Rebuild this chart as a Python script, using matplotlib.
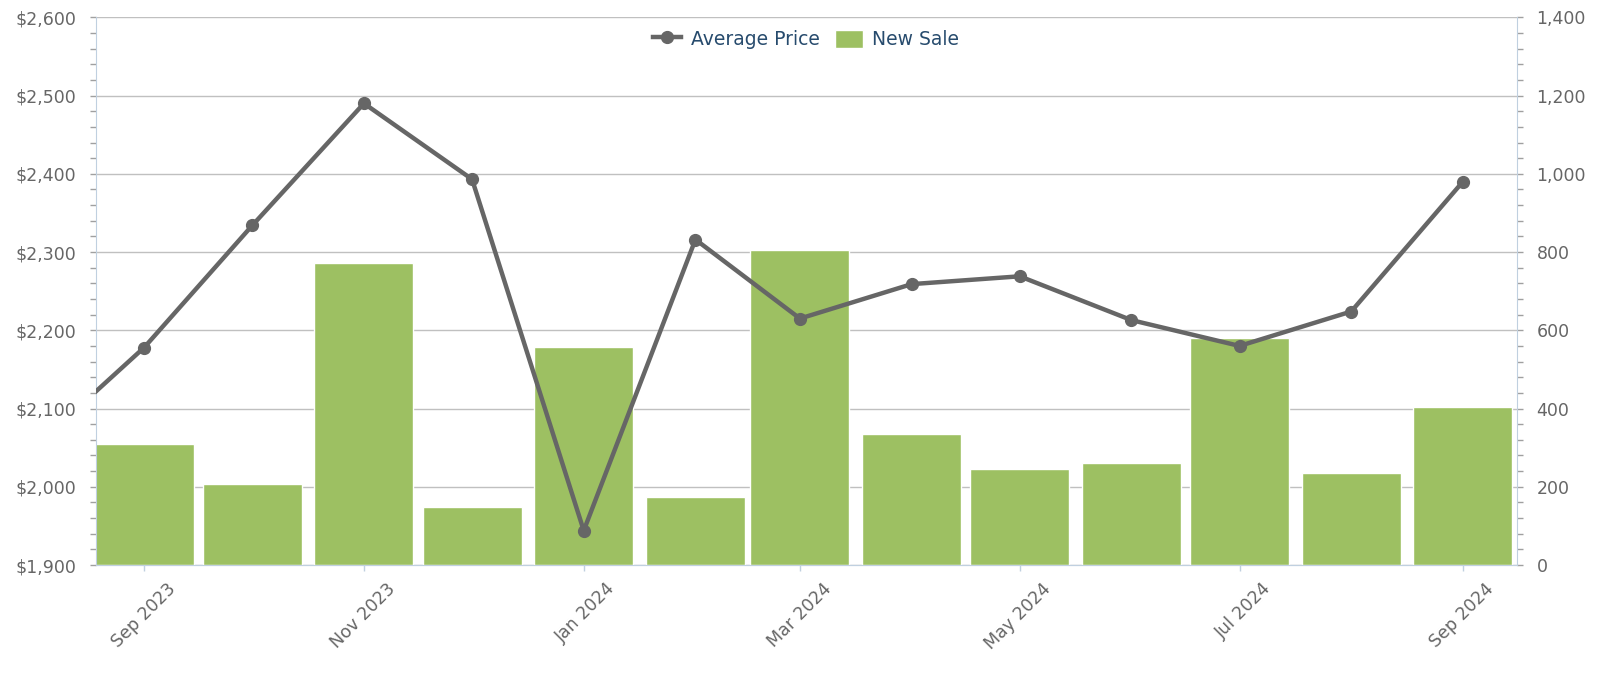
import numpy as np
import pandas as pd
import matplotlib
matplotlib.use("Agg")
import matplotlib.pyplot as plt
import matplotlib.dates as mdates
import matplotlib.transforms as mtransforms
from matplotlib.ticker import FuncFormatter, MultipleLocator

# data
months = ["2023-08", "2023-09", "2023-10", "2023-11", "2023-12", "2024-01", "2024-02",
          "2024-03", "2024-04", "2024-05", "2024-06", "2024-07", "2024-08", "2024-09"]
average_price = [2048, 2178, 2334, 2490, 2393, 1944, 2316,
                 2215, 2259, 2269, 2213, 2180, 2224, 2390]
sale_months = months[1:]
new_sale = [310, 206, 772, 149, 557, 175, 806, 335, 245, 262, 580, 236, 405]

price_ticks = [1900, 2000, 2100, 2200, 2300, 2400, 2500, 2600]
sale_ticks = [0, 200, 400, 600, 800, 1000, 1200, 1400]

dates = pd.to_datetime(months)
sale_dates = pd.to_datetime(sale_months)

label_col = "#666666"
axis_col = "#C0D0E0"

fig = plt.figure(figsize=(16, 6.74), dpi=100)
ax = fig.add_axes([0.0597, 0.1617, 0.8884, 0.8126])
ax2 = ax.twinx()
ax.set_zorder(ax2.get_zorder() + 1)
ax.patch.set_visible(False)

# bars on right axis, grid drawn there so bars cover it
ax2.bar(sale_dates, new_sale, width=27.5, color="#9DC062", edgecolor="white",
        linewidth=1, zorder=3, label="New Sale")
ax2.set_ylim(sale_ticks[0], sale_ticks[-1])
ax2.set_yticks(sale_ticks)
ax2.yaxis.set_minor_locator(MultipleLocator(40))
ax2.yaxis.set_major_formatter(FuncFormatter(lambda v, p: f"{v:,.0f}"))
ax2.grid(axis="y", color="#C0C0C0", linewidth=1.0, zorder=0)
ax2.set_axisbelow(True)

ln, = ax.plot(dates, average_price, color="#666666", linewidth=3.2, marker="o",
              markersize=8.5, zorder=4, label="Average Price")
ax.set_ylim(price_ticks[0], price_ticks[-1])
ax.set_yticks(price_ticks)
ax.yaxis.set_minor_locator(MultipleLocator(20))
ax.yaxis.set_major_formatter(FuncFormatter(lambda v, p: f"${v:,.0f}"))

x0 = pd.Timestamp("2023-09-01") - pd.Timedelta(days=13.5)
x1 = pd.Timestamp("2024-09-01") + pd.Timedelta(days=15)
ax.set_xlim(x0, x1)
ax.xaxis.set_major_locator(mdates.MonthLocator(bymonth=[1, 3, 5, 7, 9, 11]))
ax.xaxis.set_major_formatter(mdates.DateFormatter("%b %Y"))
plt.setp(ax.get_xticklabels(), rotation=45, ha="right", rotation_mode="anchor")

for a in (ax, ax2):
    a.spines["top"].set_visible(False)
    a.spines["left"].set_color(axis_col)
    a.spines["right"].set_color(axis_col)
    a.spines["bottom"].set_color(axis_col)
ax.spines["right"].set_visible(False)
ax2.spines["left"].set_visible(False)

ax.tick_params(axis="x", colors=axis_col, length=4, width=1, pad=3,
               labelsize=12.5, labelcolor=label_col)
ax.tick_params(axis="y", which="major", colors="#A0A0A0", length=4, width=1,
               pad=10, labelsize=12.5, labelcolor=label_col)
ax.tick_params(axis="y", which="minor", colors="#A0A0A0", length=4, width=1)
ax2.tick_params(axis="y", which="major", colors="#A0A0A0", length=4, width=1,
                pad=10, labelsize=12.5, labelcolor=label_col)
ax2.tick_params(axis="y", which="minor", colors="#A0A0A0", length=4, width=1)

# nudge rotated date labels so they sit under the tick like the original
off = mtransforms.ScaledTranslation(22 / 100, -5 / 100, fig.dpi_scale_trans)
for lab in ax.get_xticklabels():
    lab.set_transform(lab.get_transform() + off)

bars = ax2.containers[0]
leg = ax.legend([ln, bars], ["Average Price", "New Sale"], loc="center",
                bbox_to_anchor=(0.5, 0.96), ncol=2, frameon=False, fontsize=13.5,
                handlelength=1.5, handleheight=1.1, handletextpad=0.5,
                columnspacing=0.8)
for t in leg.get_texts():
    t.set_color("#274b6d")

fig.savefig("out.png", dpi=100, facecolor="white")
